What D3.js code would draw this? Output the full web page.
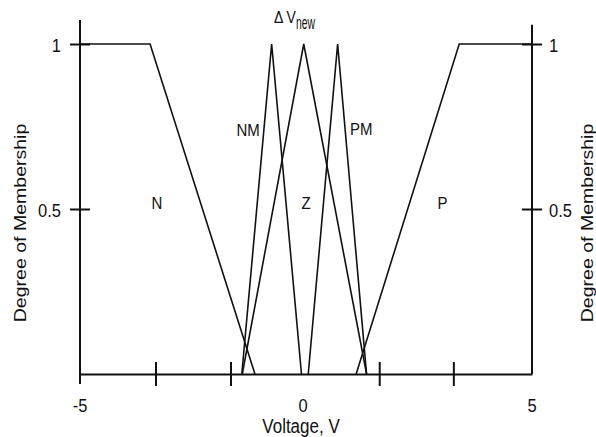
<!DOCTYPE html>
<html>
<head>
<meta charset="utf-8">
<script src="https://cdn.jsdelivr.net/npm/d3@7"></script>
<style>
  html, body { margin: 0; padding: 0; background: #fff; }
  svg { display: block; }
  text { font-family: "Liberation Sans", Arial, sans-serif; fill: #111; }
</style>
</head>
<body>
<svg id="chart" width="596" height="437"></svg>
<script>
// Fuzzy membership functions for the voltage correction ΔV_new
const setNames = ["N", "NM", "Z", "PM", "P"];
const nPoints  = [[-5, 1], [-3.45, 1], [-1.13, 0]];
const nmPoints = [[-1.42, 0], [-0.76, 1], [-0.10, 0]];
const zPoints  = [[-1.41, 0], [-0.05, 1], [1.34, 0]];
const pmPoints = [[0.05, 0], [0.70, 1], [1.34, 0]];
const pPoints  = [[1.11, 0], [3.39, 1], [5, 1]];
const setPoints = [nPoints, nmPoints, zPoints, pmPoints, pPoints];
// label anchor of each set: [voltage, membership]
const setLabelAt = [[-3.30, 0.50], [-1.28, 0.72], [0.0, 0.50], [1.22, 0.725], [3.02, 0.50]];

const xTickLabels = [-5, 0, 5];
const xMinorTicks = [-3.33, -1.67, 1.62, 3.26];
const yTickValues = [0.5, 1];
const yTickLabels = ["0.5", "1"];

const xTitle = "Voltage, V";
const yTitle = "Degree of Membership";

const svg = d3.select("#chart");
const x = d3.scaleLinear().domain([-5, 5]).range([80, 532]);
const y = d3.scaleLinear().domain([0, 1]).range([374, 44]);
const stretch = 1.15;   // text is drawn slightly tall

function label(g, px, py, str, size, anchor, rotate) {
  return g.append("text")
    .attr("transform", `translate(${px},${py}) scale(1,${stretch})` + (rotate ? " rotate(-90)" : ""))
    .attr("font-size", size)
    .attr("text-anchor", anchor)
    .text(str);
}

const axisColor = "#111";

// bottom axis with crossing minor ticks
const xAxis = svg.append("g")
  .attr("transform", `translate(0,${y(0)})`)
  .call(d3.axisBottom(x).tickValues(xMinorTicks).tickSize(12).tickSizeOuter(0).tickFormat(""));
xAxis.select(".domain").attr("stroke", axisColor).attr("stroke-width", 2);
xAxis.selectAll(".tick line").attr("y1", -12).attr("y2", 12).attr("stroke", axisColor).attr("stroke-width", 2);

// left axis
const yAxisL = svg.append("g")
  .attr("transform", `translate(${x(-5)},0)`)
  .call(d3.axisLeft(y).tickValues(yTickValues).tickSize(10).tickSizeOuter(0).tickFormat(""));
yAxisL.select(".domain").attr("d", `M0,${y(1.073)}V${y(0) + 10}`).attr("stroke", axisColor).attr("stroke-width", 2);
yAxisL.selectAll(".tick line").attr("x1", 10).attr("x2", -10).attr("stroke", axisColor).attr("stroke-width", 2);

// right axis
const yAxisR = svg.append("g")
  .attr("transform", `translate(${x(5)},0)`)
  .call(d3.axisRight(y).tickValues(yTickValues).tickSize(10).tickSizeOuter(0).tickFormat(""));
yAxisR.select(".domain").attr("d", `M0,${y(1.058)}V${y(0)}`).attr("stroke", axisColor).attr("stroke-width", 2);
yAxisR.selectAll(".tick line").attr("x1", -10).attr("x2", 10).attr("stroke", axisColor).attr("stroke-width", 2);

// tick labels
const tl = svg.append("g");
yTickValues.forEach((v, i) => {
  label(tl, x(-5) - 19, y(v) + 7.5, yTickLabels[i], 16.5, "end");
  label(tl, x(5) + 17, y(v) + 7.5, yTickLabels[i], 16.5, "start");
});
xTickLabels.forEach(v => {
  label(tl, x(v) - (v === 0 ? 3 : 0), y(0) + 38, String(v), 16.5, "middle");
});

// axis titles
label(tl, 301, 432.5, xTitle, 17, "middle");
label(tl, 26, 223, yTitle, 17, "middle", true);
label(tl, 593, 223, yTitle, 17, "middle", true);

// membership curves
const line = d3.line().x(d => x(d[0])).y(d => y(d[1]));
svg.append("g")
  .selectAll("path")
  .data(setPoints)
  .join("path")
  .attr("d", line)
  .attr("fill", "none")
  .attr("stroke", "#111")
  .attr("stroke-width", 1.6)
  .attr("stroke-linejoin", "miter");

// set names
const sl = svg.append("g");
setNames.forEach((name, i) => {
  const [v, m] = setLabelAt[i];
  label(sl, x(v), y(m), name, 15, "middle");
});

// ΔV_new title over the peaks
label(sl, 274, 23.3, "Δ V", 14, "start");
sl.append("text")
  .attr("transform", `translate(296,28.5) scale(0.8,1.45)`)
  .attr("font-size", 13)
  .text("new");
</script>
</body>
</html>
